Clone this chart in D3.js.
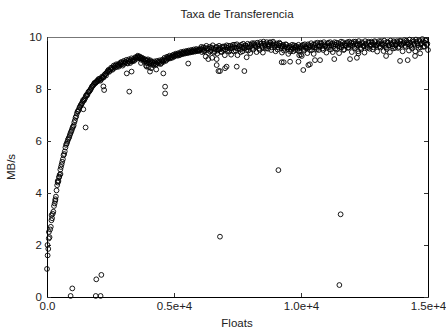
<!DOCTYPE html>
<html><head><meta charset="utf-8">
<script src="https://cdn.jsdelivr.net/npm/d3@7"></script>
<style>
body{margin:0;background:#fff;}
svg text{font-family:"Liberation Sans",Arial,sans-serif;fill:#222;}
</style></head>
<body><svg id="c" width="446" height="335"></svg>
<script>
const title = "Taxa de Transferencia";
const xLabel = "Floats";
const yLabel = "MB/s";
const xTicks = [0, 5000, 10000, 15000];
const xTickLabels = ["0.0", "0.5e+4", "1.0e+4", "1.5e+4"];
const yTicks = [0, 2, 4, 6, 8, 10];

const risePoints = [[0,1.08],[20,2.0],[50,1.85],[70,2.25],[100,2.3],[150,2.7],[180,3.15],[200,3.03],[250,3.28],[300,3.6],[330,3.76],[350,3.86],[400,4.3],[420,4.46],[450,4.46],[480,4.63],[500,4.7],[530,4.73],[550,5.0],[600,5.2],[650,5.45],[700,5.6],[750,5.85],[800,5.97],[850,6.1],[900,6.23],[950,6.36],[1000,6.5],[1050,6.6],[1100,6.8],[1150,6.95],[1200,7.13],[1250,7.2],[1300,7.32],[1350,7.4],[1400,7.51],[1430,7.22],[1450,7.55],[1500,7.65],[1550,7.77],[1600,7.8],[1650,7.9],[1700,7.96],[1750,8.05],[1800,8.12],[1850,8.19],[1900,8.22],[1950,8.28],[2000,8.3]];

const risePoints2 = [[25,1.6],[75,2.5],[125,2.6],[175,2.95],[225,3.2],[275,3.5],[325,3.7],[375,4.1],[425,4.4],[475,4.6],[525,4.9],[575,5.1],[625,5.3],[675,5.5],[725,5.75],[775,5.9],[825,6.05],[875,6.15],[925,6.3],[975,6.42],[1025,6.55],[1075,6.72],[1125,6.9],[1175,7.05],[1225,7.15],[1275,7.28],[1325,7.38],[1375,7.45],[1425,7.58],[1475,7.6],[1525,7.72],[1575,7.75],[1625,7.88],[1675,7.92],[1725,8.0],[1775,8.1],[1825,8.15],[1875,8.24],[1925,8.25],[1975,8.32]];

const kneePoints = [[2050,8.35],[2100,8.32],[2150,8.42],[2200,8.45],[2250,8.5],[2300,8.58],[2350,8.62],[2400,8.7],[2450,8.66],[2500,8.75],[2550,8.8],[2600,8.78],[2650,8.86],[2700,8.9],[2750,8.85],[2800,8.95],[2850,8.92],[2900,8.98],[2950,8.95],[3000,9.02],[3050,8.97],[3100,9.05],[3150,9.0],[3200,9.08],[3250,9.05],[3300,9.1],[3350,9.06],[3400,9.15],[3450,9.12],[3500,9.2],[3550,9.24],[3600,9.22],[3650,9.25],[3700,9.18],[3750,9.2],[3800,9.12],[3850,9.15],[3900,9.08],[3950,9.1],[4000,9.03],[4050,9.06],[4100,8.98],[4150,9.02],[4200,8.95],[4250,9.0],[4300,8.96],[4350,9.02],[4400,8.98],[4450,9.05],[4500,9.0],[4550,9.08],[4600,9.1],[4650,9.15],[4700,9.12],[4750,9.2],[4800,9.22],[4850,9.18],[4900,9.25],[4950,9.28],[5000,9.24],[5050,9.3],[5100,9.32],[5150,9.28],[5200,9.35],[5250,9.33],[5300,9.38],[5350,9.36],[5400,9.4],[5450,9.38],[5500,9.43],[5550,9.4],[5600,9.45],[5650,9.42],[5700,9.46],[5750,9.44],[5800,9.48],[5850,9.45],[5900,9.5],[5950,9.47],[6000,9.48],[3700,9.0],[3900,8.9],[4000,8.85],[4100,8.8],[4300,8.75]];

const kneePoints2 = [[2025,8.38],[2075,8.4],[2125,8.36],[2175,8.48],[2225,8.44],[2275,8.56],[2325,8.52],[2375,8.66],[2425,8.74],[2475,8.7],[2525,8.82],[2575,8.74],[2625,8.9],[2675,8.82],[2725,8.95],[2775,8.9],[2825,8.86],[2875,9.0],[2925,9.04],[2975,8.9],[3025,9.08],[3075,9.02],[3125,9.12],[3175,8.98],[3225,9.14],[3275,9.0],[3325,9.18],[3375,9.1],[3425,9.08],[3475,9.22],[3525,9.16],[3575,9.28],[3625,9.18],[3675,9.22],[3725,9.12],[3775,9.16],[3825,9.05],[3875,9.12],[3925,9.0],[3975,9.14],[4025,8.98],[4075,9.1],[4125,9.04],[4175,8.92],[4225,9.06],[4275,8.94],[4325,9.08],[4375,9.04],[4425,9.1],[4475,8.96],[4525,9.12],[4575,9.04],[4625,9.2],[4675,9.08],[4725,9.24],[4775,9.16],[4825,9.28],[4875,9.22],[4925,9.2],[4975,9.32],[5025,9.26],[5075,9.36],[5125,9.3],[5175,9.38],[5225,9.3],[5275,9.42],[5325,9.34],[5375,9.44],[5425,9.36],[5475,9.46],[5525,9.38],[5575,9.48],[5625,9.4],[5675,9.5],[5725,9.42],[5775,9.52],[5825,9.44],[5875,9.54],[5925,9.46],[5975,9.52]];

const plateauPoints = [[6050,9.55],[6100,9.42],[6150,9.6],[6200,9.48],[6250,9.25],[6300,9.56],[6350,9.38],[6400,9.62],[6450,9.5],[6500,9.2],[6550,9.55],[6600,9.45],[6650,9.6],[6700,9.36],[6750,9.52],[6800,9.58],[6850,9.44],[6900,9.63],[6950,9.5],[7000,9.3],
[7050,9.6],[7100,9.47],[7150,9.66],[7200,9.55],[7250,9.32],[7300,9.62],[7350,9.45],[7400,9.7],[7450,9.58],[7500,9.3],[7550,9.64],[7600,9.52],[7650,9.7],[7700,9.45],[7750,9.6],[7800,9.68],[7850,9.5],[7900,9.74],[7950,9.6],[8000,9.38],
[8050,9.7],[8100,9.58],[8150,9.76],[8200,9.65],[8250,9.42],[8300,9.72],[8350,9.55],[8400,9.8],[8450,9.66],[8500,9.4],[8550,9.74],[8600,9.62],[8650,9.8],[8700,9.55],[8750,9.7],[8800,9.78],[8850,9.6],[8900,9.82],[8950,9.68],[9000,9.45],
[9050,9.75],[9100,9.6],[9150,9.78],[9200,9.66],[9250,9.4],[9300,9.7],[9350,9.55],[9400,9.72],[9450,9.6],[9500,9.35],[9550,9.65],[9600,9.52],[9650,9.7],[9700,9.45],[9750,9.6],[9800,9.66],[9850,9.5],[9900,9.7],[9950,9.58],[10000,9.32],
[10050,9.66],[10100,9.54],[10150,9.72],[10200,9.6],[10250,9.38],[10300,9.68],[10350,9.5],[10400,9.76],[10450,9.62],[10500,9.35],[10550,9.7],[10600,9.58],[10650,9.78],[10700,9.5],[10750,9.66],[10800,9.74],[10850,9.56],[10900,9.8],[10950,9.64],[11000,9.4],
[11050,9.74],[11100,9.6],[11150,9.8],[11200,9.68],[11250,9.42],[11300,9.72],[11350,9.55],[11400,9.78],[11450,9.65],[11500,9.38],[11550,9.72],[11600,9.6],[11650,9.8],[11700,9.52],[11750,9.68],[11800,9.76],[11850,9.58],[11900,9.82],[11950,9.66],[12000,9.42],
[12050,9.75],[12100,9.62],[12150,9.82],[12200,9.7],[12250,9.45],[12300,9.74],[12350,9.58],[12400,9.8],[12450,9.66],[12500,9.4],[12550,9.74],[12600,9.62],[12650,9.82],[12700,9.55],[12750,9.7],[12800,9.78],[12850,9.6],[12900,9.84],[12950,9.68],[13000,9.44],
[13050,9.76],[13100,9.64],[13150,9.84],[13200,9.7],[13250,9.46],[13300,9.76],[13350,9.6],[13400,9.82],[13450,9.68],[13500,9.42],[13550,9.76],[13600,9.64],[13650,9.84],[13700,9.58],[13750,9.72],[13800,9.8],[13850,9.62],[13900,9.86],[13950,9.7],[14000,9.45],
[14050,9.8],[14100,9.66],[14150,9.86],[14200,9.72],[14250,9.48],[14300,9.78],[14350,9.62],[14400,9.88],[14450,9.74],[14500,9.45],[14550,9.82],[14600,9.68],[14650,9.88],[14700,9.6],[14750,9.76],[14800,9.84],[14850,9.64],[14900,9.86],[14950,9.7],[15000,9.5]];

const plateauPoints2 = [[6025,9.5],[6075,9.62],[6125,9.52],[6175,9.45],[6225,9.58],[6275,9.66],[6325,9.5],[6375,9.55],[6425,9.44],[6475,9.6],[6525,9.68],[6575,9.4],[6625,9.52],[6675,9.62],[6725,9.48],[6775,9.66],[6825,9.54],[6875,9.42],[6925,9.58],[6975,9.64],
[7025,9.52],[7075,9.68],[7125,9.58],[7175,9.44],[7225,9.66],[7275,9.56],[7325,9.7],[7375,9.6],[7425,9.48],[7475,9.72],[7525,9.56],[7575,9.66],[7625,9.42],[7675,9.62],[7725,9.74],[7775,9.56],[7825,9.66],[7875,9.6],[7925,9.48],[7975,9.7],
[8025,9.64],[8075,9.76],[8125,9.52],[8175,9.7],[8225,9.62],[8275,9.78],[8325,9.66],[8375,9.5],[8425,9.74],[8475,9.6],[8525,9.82],[8575,9.68],[8625,9.56],[8675,9.72],[8725,9.64],[8775,9.8],[8825,9.5],[8875,9.7],[8925,9.76],[8975,9.62],
[9025,9.7],[9075,9.52],[9125,9.68],[9175,9.74],[9225,9.58],[9275,9.64],[9325,9.48],[9375,9.62],[9425,9.7],[9475,9.54],[9525,9.6],[9575,9.44],[9625,9.62],[9675,9.56],[9725,9.68],[9775,9.5],[9825,9.62],[9875,9.58],[9925,9.46],[9975,9.64],
[10025,9.58],[10075,9.7],[10125,9.48],[10175,9.64],[10225,9.56],[10275,9.72],[10325,9.6],[10375,9.66],[10425,9.5],[10475,9.7],[10525,9.6],[10575,9.76],[10625,9.52],[10675,9.68],[10725,9.62],[10775,9.78],[10825,9.66],[10875,9.5],[10925,9.72],[10975,9.68],
[11025,9.62],[11075,9.78],[11125,9.66],[11175,9.52],[11225,9.74],[11275,9.64],[11325,9.8],[11375,9.7],[11425,9.54],[11475,9.76],[11525,9.62],[11575,9.82],[11625,9.68],[11675,9.5],[11725,9.74],[11775,9.66],[11825,9.8],[11875,9.6],[11925,9.72],[11975,9.78],
[12025,9.66],[12075,9.82],[12125,9.56],[12175,9.74],[12225,9.68],[12275,9.84],[12325,9.7],[12375,9.54],[12425,9.76],[12475,9.64],[12525,9.84],[12575,9.7],[12625,9.58],[12675,9.78],[12725,9.66],[12775,9.82],[12825,9.52],[12875,9.72],[12925,9.8],[12975,9.66],
[13025,9.72],[13075,9.84],[13125,9.6],[13175,9.76],[13225,9.7],[13275,9.86],[13325,9.66],[13375,9.54],[13425,9.78],[13475,9.68],[13525,9.86],[13575,9.72],[13625,9.56],[13675,9.8],[13725,9.68],[13775,9.84],[13825,9.58],[13875,9.74],[13925,9.82],[13975,9.7],
[14025,9.76],[14075,9.88],[14125,9.62],[14175,9.8],[14225,9.72],[14275,9.9],[14325,9.68],[14375,9.56],[14425,9.82],[14475,9.7],[14525,9.9],[14575,9.76],[14625,9.58],[14675,9.84],[14725,9.72],[14775,9.92],[14825,9.62],[14875,9.78],[14925,9.88],[14975,9.74]];

const outlierPoints = [[996,0.33],[930,0.04],[1940,0.68],[2140,0.85],[1920,0.04],[2110,0.04],[1520,6.52],
[3240,7.9],[4650,8.09],[4650,7.83],[3140,8.6],[3330,8.67],[2220,8.1],[2250,7.96],[3925,8.86],[4055,8.67],[4580,8.6],
[5560,8.98],[6350,9.15],[6680,9.15],[6680,8.92],[6750,8.69],[6810,8.69],[7010,8.8],[7070,8.86],[7470,8.86],[7770,8.69],[7860,9.22],
[9240,9.03],[9320,9.03],[9570,9.05],[9900,9.05],[10090,8.73],[10290,8.92],[10550,9.11],[10750,9.11],[9930,9.3],[10030,9.27],
[10350,8.95],[11310,9.15],[11930,9.15],[12200,9.2],[12260,9.37],[13350,9.27],[13900,9.08],[14200,9.11],[14490,9.27],[14690,9.37],
[6810,2.32],[9110,4.88],[11560,3.18],[11510,0.46]];

const svg = d3.select("#c");
const x = d3.scaleLinear().domain([0, 15000]).range([47, 428]);
const y = d3.scaleLinear().domain([0, 10]).range([297, 37]);

const fs = "11.5px";
svg.append("g").attr("transform", "translate(0,297)")
  .call(d3.axisBottom(x).tickValues(xTicks).tickSizeInner(-4).tickSizeOuter(0).tickPadding(5)
    .tickFormat((d, i) => xTickLabels[i]))
  .call(g => g.selectAll("text").style("font-size", fs));
svg.append("g").attr("transform", "translate(47,0)")
  .call(d3.axisLeft(y).tickValues(yTicks).tickSizeInner(-4).tickSizeOuter(0).tickPadding(5))
  .call(g => g.selectAll("text").style("font-size", fs));
svg.append("g").attr("transform", "translate(0,37)")
  .call(d3.axisTop(x).tickValues(xTicks).tickSizeInner(-4).tickSizeOuter(0).tickFormat(""))
  .call(g => g.select(".domain").attr("stroke", "#777"));
svg.append("g").attr("transform", "translate(428,0)")
  .call(d3.axisRight(y).tickValues(yTicks).tickSizeInner(-4).tickSizeOuter(0).tickFormat(""));
svg.selectAll(".tick line").attr("stroke", "#333");

const all = risePoints.concat(risePoints2, kneePoints, kneePoints2, plateauPoints, plateauPoints2, outlierPoints);
svg.append("g").selectAll("circle").data(all).join("circle")
  .attr("cx", d => x(d[0])).attr("cy", d => y(d[1])).attr("r", 2.4)
  .attr("fill", "none").attr("stroke", "#000").attr("stroke-width", 0.9);

svg.append("text").attr("x", 237).attr("y", 18).attr("text-anchor", "middle")
  .style("font-size", fs).text(title);
svg.append("text").attr("x", 237).attr("y", 327).attr("text-anchor", "middle")
  .style("font-size", fs).text(xLabel);
svg.append("text").attr("transform", "translate(15,167) rotate(-90)").attr("text-anchor", "middle")
  .style("font-size", fs).text(yLabel);
</script></body></html>
